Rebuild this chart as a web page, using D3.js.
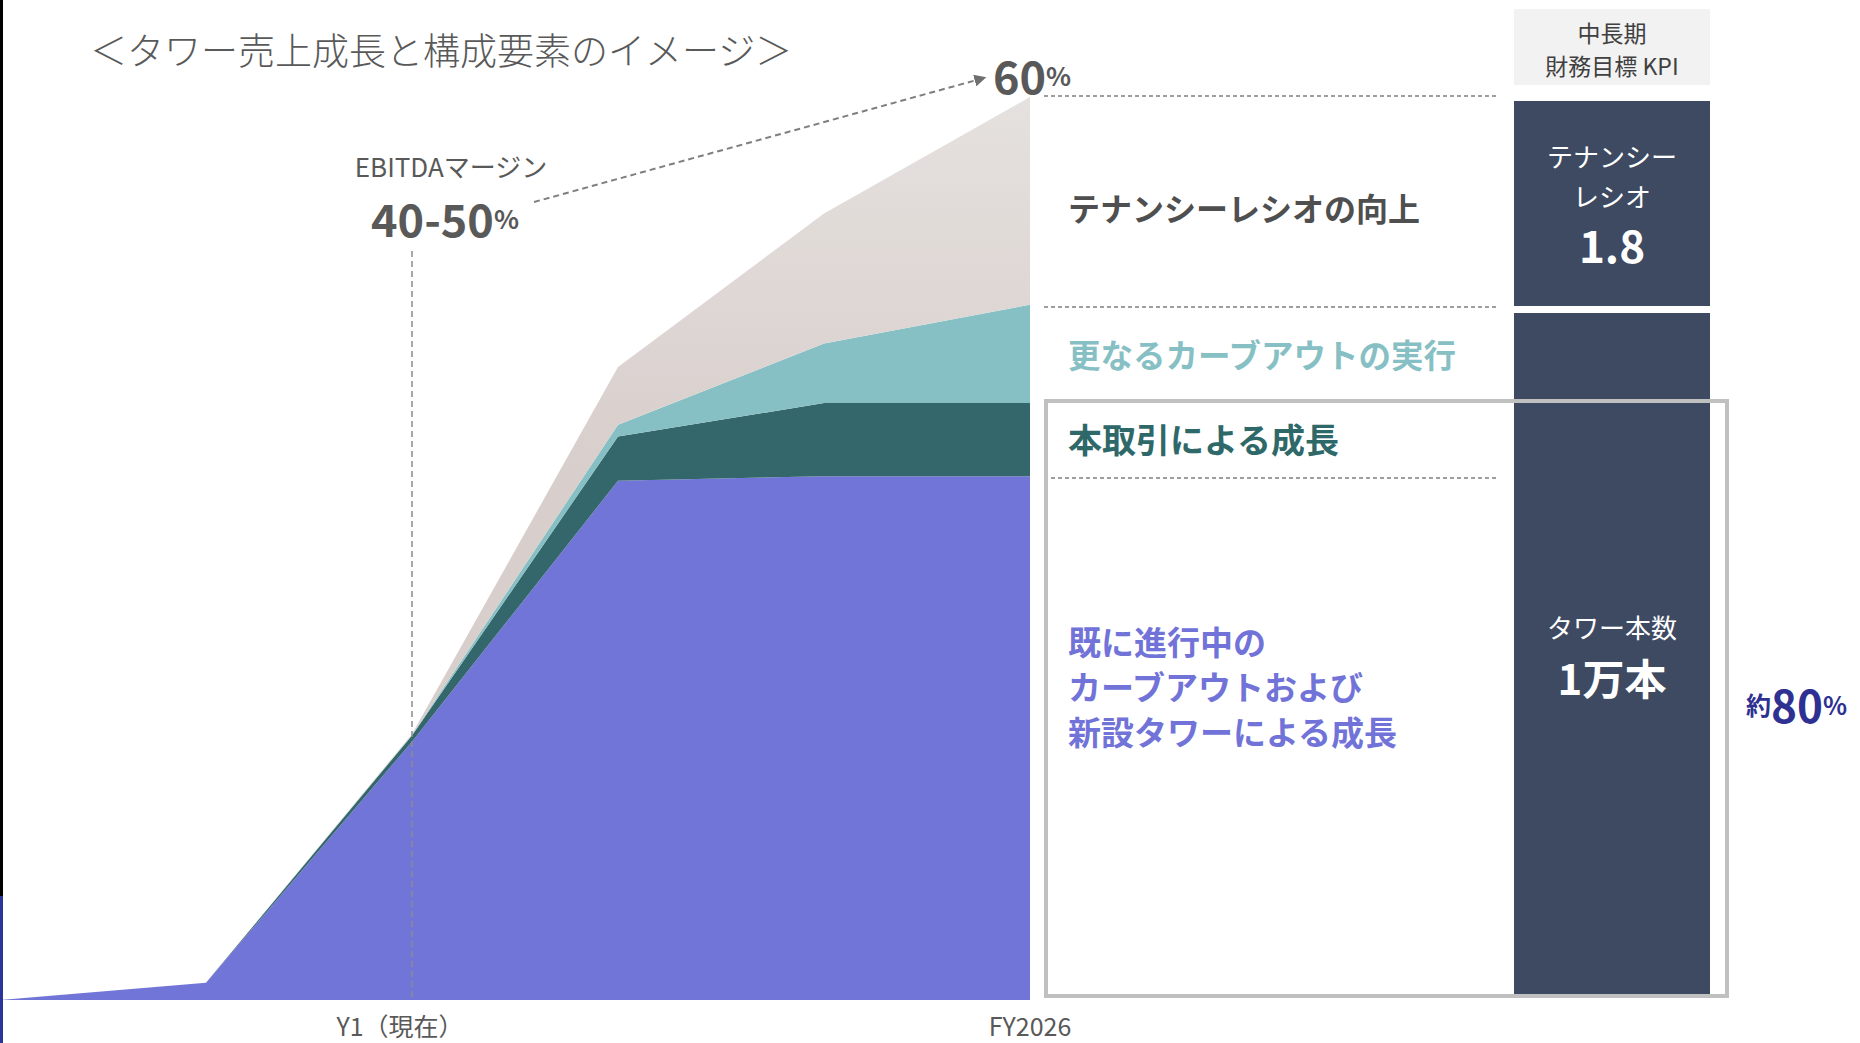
<!DOCTYPE html>
<html>
<head>
<meta charset="utf-8">
<script src="https://cdn.jsdelivr.net/npm/d3@7"></script>
<style>
  html, body { margin: 0; padding: 0; background: #fff; }
  svg text { font-family: "Noto Sans CJK JP", "Noto Sans", sans-serif; }
</style>
</head>
<body>
<div id="chart"></div>
<script>
// Periods on the x axis and their labels
const periods = [0, 1, 2, 3, 4, 5];
const tickLabels = ["", "", "Y1（現在）", "", "", "FY2026"];

// Stacked components (index, FY2026 total = 100)
const existing = [0, 1.9, 28.6, 57.5, 58.0, 58.0];   // 既に進行中のカーブアウトおよび新設タワー
const deal     = [0, 0.0, 0.7, 4.9, 8.1, 8.1];       // 本取引による成長
const carveout = [0, 0.0, 0.05, 1.3, 6.6, 10.9];     // 更なるカーブアウトの実行
const tenancy  = [0, 0.0, 0.1, 6.4, 14.4, 23.0];     // テナンシーレシオの向上

const keys = ["existing", "deal", "carveout", "tenancy"];
const colors = {
    existing: "#7275d8",
    deal: "#34676b",
    carveout: "#87c0c4",
    tenancy: "url(#beigeGrad)"
};

const rows = periods.map((p, i) => ({
    period: p,
    existing: existing[i],
    deal: deal[i],
    carveout: carveout[i],
    tenancy: tenancy[i]
}));

const width = 1860, height = 1043;

const svg = d3.select("#chart")
    .append("svg")
    .attr("width", width)
    .attr("height", height);

const defs = svg.append("defs");

// Scales
const x = d3.scaleLinear().domain([0, 5]).range([0, 1030]);
const y = d3.scaleLinear().domain([0, 100]).range([1000, 97]);

const grad = defs.append("linearGradient")
    .attr("id", "beigeGrad")
    .attr("gradientUnits", "userSpaceOnUse")
    .attr("x1", 0).attr("y1", y(100)).attr("x2", 0).attr("y2", y(58));
grad.append("stop").attr("offset", "0%").attr("stop-color", "#e5e1de");
grad.append("stop").attr("offset", "100%").attr("stop-color", "#d8cecc");

defs.append("marker")
    .attr("id", "arrow")
    .attr("viewBox", "0 0 10 10")
    .attr("refX", 8).attr("refY", 5)
    .attr("markerWidth", 6).attr("markerHeight", 6)
    .attr("orient", "auto")
    .append("path")
    .attr("d", "M0,0 L10,5 L0,10 Z")
    .attr("fill", "#6f6f6f");

// Stacked areas
const stack = d3.stack().keys(keys);
const series = stack(rows);

const area = d3.area()
    .x(d => x(d.data.period))
    .y0(d => y(d[0]))
    .y1(d => y(d[1]));

svg.append("g")
    .selectAll("path")
    .data(series)
    .join("path")
    .attr("fill", d => colors[d.key])
    .attr("d", area);

// Slide edge strip on the left
svg.append("rect").attr("x", 0).attr("y", 0).attr("width", 3).attr("height", 896).attr("fill", "#000");
svg.append("rect").attr("x", 0).attr("y", 896).attr("width", 3).attr("height", height - 896).attr("fill", "#2b3598");

// X axis labels
svg.append("g")
    .selectAll("text")
    .data(periods.filter((p, i) => tickLabels[i] !== ""))
    .join("text")
    .attr("x", d => x(d) - (tickLabels[d].includes("（") ? 12 : 0))
    .attr("y", 1025)
    .attr("text-anchor", "middle")
    .attr("dominant-baseline", "central")
    .attr("font-size", 25)
    .attr("fill", "#595959")
    .text(d => tickLabels[d]);

// Y1 vertical dashed line
svg.append("line")
    .attr("x1", x(2)).attr("x2", x(2))
    .attr("y1", 251).attr("y2", y(0))
    .attr("stroke", "#8c8c8c")
    .attr("stroke-width", 1.5)
    .attr("stroke-dasharray", "6,4");

// Title
svg.append("text")
    .attr("x", 90).attr("y", 49)
    .attr("dominant-baseline", "central")
    .attr("font-size", 37)
    .attr("font-weight", 300)
    .attr("fill", "#595959")
    .text("＜タワー売上成長と構成要素のイメージ＞");

// EBITDA margin annotation
svg.append("text")
    .attr("x", 451).attr("y", 165)
    .attr("text-anchor", "middle")
    .attr("dominant-baseline", "central")
    .attr("font-size", 26)
    .attr("fill", "#595959")
    .text("EBITDAマージン");

const m1 = svg.append("text")
    .attr("x", 445).attr("y", 217)
    .attr("text-anchor", "middle")
    .attr("dominant-baseline", "central")
    .attr("font-weight", 700)
    .attr("fill", "#595959");
m1.append("tspan").attr("font-size", 45).text("40-50");
m1.append("tspan").attr("font-size", 26).text("%");

const m2 = svg.append("text")
    .attr("x", 993).attr("y", 74)
    .attr("dominant-baseline", "central")
    .attr("font-weight", 700)
    .attr("fill", "#595959");
m2.append("tspan").attr("font-size", 45).text("60");
m2.append("tspan").attr("font-size", 26).text("%");

svg.append("line")
    .attr("x1", 534).attr("y1", 202)
    .attr("x2", 984).attr("y2", 78)
    .attr("stroke", "#7f7f7f")
    .attr("stroke-width", 2)
    .attr("stroke-dasharray", "6,4")
    .attr("marker-end", "url(#arrow)");

// Right side separators
[96, 307, 478].forEach(yy => {
    svg.append("line")
        .attr("x1", 1044).attr("x2", 1497)
        .attr("y1", yy).attr("y2", yy)
        .attr("stroke", "#7f7f7f")
        .attr("stroke-width", 1.5)
        .attr("stroke-dasharray", "4,3");
});

// Component labels
const labels = [
    { lines: ["テナンシーレシオの向上"], y: 207, color: "#4f4f4f", size: 32 },
    { lines: ["更なるカーブアウトの実行"], y: 353, color: "#87c0c4", size: 32.5 },
    { lines: ["本取引による成長"], y: 438, color: "#2f6868", size: 34 },
    { lines: ["既に進行中の", "カーブアウトおよび", "新設タワーによる成長"], y: 641, color: "#7173d8", size: 33 }
];
labels.forEach(l => {
    const t = svg.append("text")
        .attr("font-size", l.size)
        .attr("font-weight", 700)
        .attr("fill", l.color)
        .attr("dominant-baseline", "central");
    l.lines.forEach((s, i) => {
        t.append("tspan").attr("x", 1068).attr("y", l.y + i * 45).text(s);
    });
});

// KPI column
svg.append("rect").attr("x", 1514).attr("y", 9).attr("width", 196).attr("height", 76).attr("fill", "#f2f2f2");
svg.append("text").attr("x", 1612).attr("y", 32).attr("text-anchor", "middle").attr("dominant-baseline", "central")
    .attr("font-size", 23).attr("fill", "#404040").text("中長期");
svg.append("text").attr("x", 1612).attr("y", 65).attr("text-anchor", "middle").attr("dominant-baseline", "central")
    .attr("font-size", 23).attr("fill", "#404040").text("財務目標 KPI");

svg.append("rect").attr("x", 1514).attr("y", 101).attr("width", 196).attr("height", 205).attr("fill", "#3e4a62");
svg.append("rect").attr("x", 1514).attr("y", 313).attr("width", 196).attr("height", 681).attr("fill", "#3e4a62");

const kpiText = [
    { s: "テナンシー", y: 155, size: 26, w: 400 },
    { s: "レシオ", y: 195, size: 26, w: 400 },
    { s: "1.8", y: 244, size: 44, w: 700 },
    { s: "タワー本数", y: 626, size: 26, w: 400 },
    { s: "1万本", y: 676, size: 42, w: 700 }
];
kpiText.forEach(k => {
    svg.append("text")
        .attr("x", 1612).attr("y", k.y)
        .attr("text-anchor", "middle")
        .attr("dominant-baseline", "central")
        .attr("font-size", k.size)
        .attr("font-weight", k.w)
        .attr("fill", "#ffffff")
        .text(k.s);
});

// Grey bracket box
svg.append("rect")
    .attr("x", 1046).attr("y", 401)
    .attr("width", 681).attr("height", 595)
    .attr("fill", "none")
    .attr("stroke", "#c0c0c0")
    .attr("stroke-width", 4);

const p80 = svg.append("text")
    .attr("x", 1746).attr("y", 704)
    .attr("dominant-baseline", "central")
    .attr("font-weight", 700)
    .attr("fill", "#2e3192");
p80.append("tspan").attr("font-size", 25).text("約");
p80.append("tspan").attr("font-size", 44).text("80");
p80.append("tspan").attr("font-size", 25).text("%");
</script>
</body>
</html>
